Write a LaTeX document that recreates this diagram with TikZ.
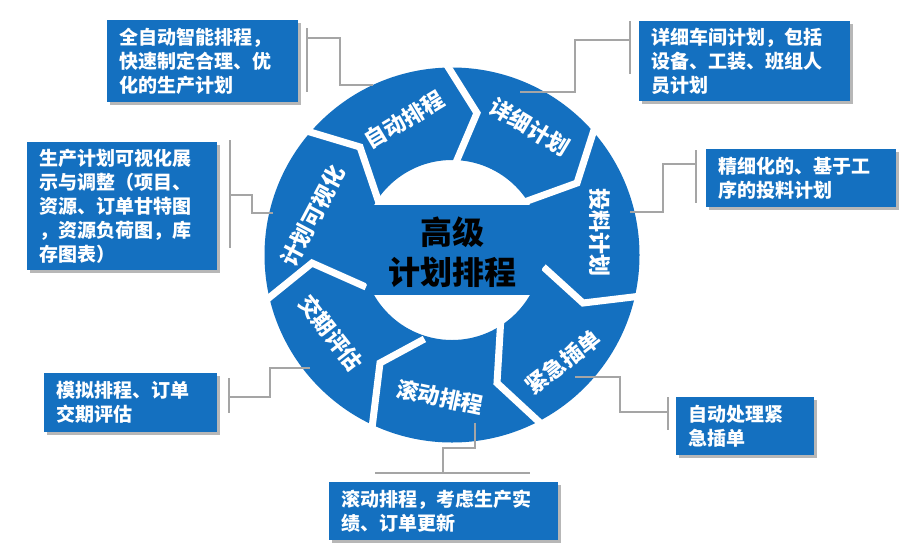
\documentclass[tikz,border=0pt]{standalone}
\usepackage{fontspec}
\newfontfamily\cjk{Noto Sans CJK SC}
\usetikzlibrary{calc,shadows}
\definecolor{ringblue}{RGB}{20,112,192}
\definecolor{leadgray}{RGB}{165,165,165}
\begin{document}
\begin{tikzpicture}[x=1pt,y=-1pt,
  callout/.style={fill=ringblue, text=white, font=\cjk\bfseries\fontsize{19}{24}\selectfont,
    align=left, anchor=north west, inner xsep=12pt, inner ysep=0pt,
    drop shadow={shadow xshift=3pt,shadow yshift=-3pt,opacity=.4,fill=black!70}},
  seglabel/.style={text=white, font=\cjk\bfseries\fontsize{22}{26}\selectfont, inner sep=0pt},
  leader/.style={draw=leadgray, line width=1.5pt},
  gapline/.style={draw=white, line width=7pt, line join=miter, line cap=butt},
]
\useasboundingbox (0,0) rectangle (909,552);
\fill[white] (0,0) rectangle (909,552);

% ring
\fill[ringblue, even odd rule] (452,255) circle[radius=187.5pt] (452,250) circle[radius=90pt];

% chevron gaps between the seven segments
\draw[gapline] ($(360,147)!1.3!(310,132)$) -- (360,147) -- ($(360,147)!1.2!(377,197)$);
\draw[gapline] ($(477,113)!1.3!(450,70)$) -- (477,113) -- ($(477,113)!1.2!(457,160)$);
\draw[gapline] ($(577,183)!1.3!(593,133)$) -- (577,183) -- ($(577,183)!1.2!(530,200)$);
\draw[gapline] ($(583,303)!1.3!(633,297)$) -- (583,303) -- ($(583,303)!1.2!(550,273)$);
\draw[gapline] ($(497,383)!1.3!(537,420)$) -- (497,383) -- ($(497,383)!1.2!(500,333)$);
\draw[gapline] ($(380,363)!1.3!(373,420)$) -- (380,363) -- ($(380,363)!1.2!(417,343)$);
\draw[gapline] ($(312,263)!1.3!(270,297)$) -- (312,263) -- ($(312,263)!1.2!(357,283)$);

% central band
\begin{scope}
  \clip (452,250) circle[radius=92pt];
  \fill[ringblue] (340,205) rectangle (570,295);
\end{scope}
\node[font=\cjk\bfseries\fontsize{32}{40}\selectfont, text=black, align=center, inner sep=0pt] (center) at (452,252) {高级\\计划排程};

% segment labels
\node[seglabel, rotate=31]  (s1) at (404,120) {自动排程};
\node[seglabel, rotate=-31] (s2) at (530,127) {详细计划};
\node[seglabel, rotate=-90] (s3) at (600,232) {投料计划};
\node[seglabel, rotate=38]  (s4) at (563,362) {紧急插单};
\node[seglabel, rotate=-12] (s5) at (440,397) {滚动排程};
\node[seglabel, rotate=-52] (s6) at (331,333) {交期评估};
\node[seglabel, rotate=62]  (s7) at (313,216) {计划可视化};

% callout boxes
\node[callout, text width=167pt, minimum height=82pt] (b1) at (107,20) {全自动智能排程，\\快速制定合理、优\\化的生产计划};
\node[callout, text width=166pt, minimum height=128pt] (b2) at (27,142) {生产计划可视化展\\示与调整（项目、\\资源、订单甘特图\\，资源负荷图，库\\存图表）};
\node[callout, text width=187pt, minimum height=80pt] (b3) at (639,21) {详细车间计划，包括\\设备、工装、班组人\\员计划};
\node[callout, text width=166pt, minimum height=58pt] (b4) at (706,149) {精细化的、基于工\\序的投料计划};
\node[callout, text width=149pt, minimum height=59pt] (b5) at (44,373) {模拟排程、订单\\交期评估};
\node[callout, text width=114pt, minimum height=58pt] (b6) at (676,397) {自动处理紧\\急插单};
\node[callout, text width=205pt, minimum height=58pt] (b7) at (329,482) {滚动排程，考虑生产实\\绩、订单更新};

% leader lines
\coordinate (r1) at (373,85);
\coordinate (r2) at (273,213);
\coordinate (r3) at (520,92);
\coordinate (r4) at (630,212);
\coordinate (r5) at (310,368);
\coordinate (r6) at (575,377);
\coordinate (r7) at (475,423);

\draw[leader] (307,28) -- (307,92);
\draw[leader] (307,38) -- (340,38) -- (340,85) -- (r1);
\draw[leader] (230,140) -- (230,248);
\draw[leader] (230,195) -- (252,195) -- (252,213) -- (r2);
\draw[leader] (630,21) -- (630,74);
\draw[leader] (630,40) -- (575,40) -- (575,92) -- (r3);
\draw[leader] (696,150) -- (696,203);
\draw[leader] (696,164) -- (663,164) -- (663,212) -- (r4);
\draw[leader] (229,378) -- (229,413);
\draw[leader] (229,397) -- (270,397) -- (270,368) -- (r5);
\draw[leader] (668,397) -- (668,430);
\draw[leader] (668,412) -- (620,412) -- (620,377) -- (r6);
\draw[leader] (375,473) -- (530,473);
\draw[leader] (443,473) -- (443,448) -- (475,448) -- (r7);
\end{tikzpicture}
\end{document}
